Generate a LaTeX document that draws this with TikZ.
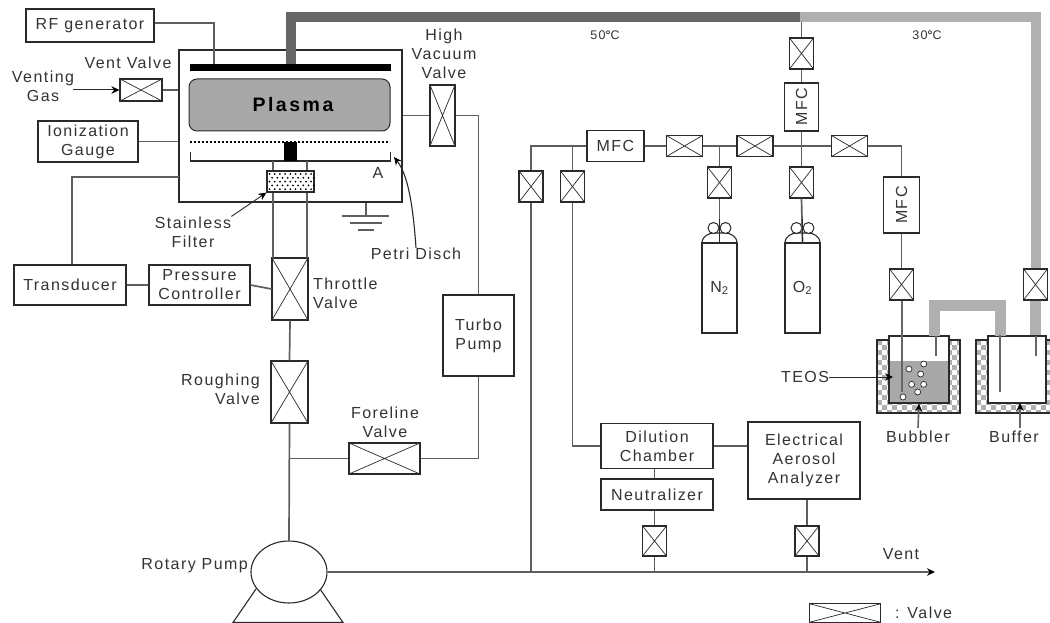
\documentclass[tikz,border=0pt]{standalone}
\usepackage{fontspec}
\setmainfont[LetterSpace=9]{Liberation Sans}
\usetikzlibrary{arrows.meta,shapes.geometric}
\definecolor{linegray}{HTML}{5E5E5E}
\definecolor{boxline}{HTML}{2A2A2A}
\definecolor{labeltext}{HTML}{333333}
\definecolor{hotline}{HTML}{666666}
\definecolor{coldline}{HTML}{B0B0B0}
\definecolor{plasmafill}{HTML}{A8A8A8}
\tikzset{
  lbl/.style={inner sep=0pt, align=center, text=labeltext,
    font=\fontsize{16}{19}\selectfont},
  tinylbl/.style={lbl, font=\fontsize{12.5}{15}\selectfont},
  flowbox/.style={draw=boxline, line width=1.1pt, lbl, text=labeltext},
  valve/.style={draw=boxline, line width=1.1pt, inner sep=0pt,
    path picture={\draw[boxline, line width=0.7pt]
      (path picture bounding box.north west) -- (path picture bounding box.south east)
      (path picture bounding box.north east) -- (path picture bounding box.south west);}},
  valveup/.style={valve, minimum width=24pt, minimum height=31pt},
  valveside/.style={valve, minimum width=36pt, minimum height=21pt},
  pipe/.style={draw=linegray, line width=1.7pt},
  hotpipe/.style={draw=hotline, line width=10pt},
  coldpipe/.style={draw=coldline, line width=10pt},
  arr/.style={-{Stealth[length=8pt,width=7.5pt,black]}, draw=boxline, line width=1pt},
  tube/.style={draw=hotline, line width=2pt}
}
\begin{document}
\begin{tikzpicture}[x=1pt,y=-1pt]
  \clip (0,0) rectangle (1050,623);
  \fill[white] (0,0) rectangle (1050,623);
  \node[flowbox, minimum width=128pt, minimum height=33pt] (rfgen) at (90,25.5) {RF generator};
  \node[flowbox, minimum width=100pt, minimum height=41pt] (iongauge) at (88,141.5) {Ionization\\Gauge};
  \node[flowbox, minimum width=112pt, minimum height=40pt] (transducer) at (70,285) {Transducer};
  \node[flowbox, minimum width=101pt, minimum height=40pt] (presctrl) at (199.5,285) {Pressure\\Controller};
  \node[draw=boxline, line width=1.1pt, minimum width=223pt, minimum height=152pt] (chamber) at (290.5,126) {};
  \node[fill=black, inner sep=0pt, minimum width=201pt, minimum height=7pt] (topplate) at (290.5,67.5) {};
  \node[draw=boxline, line width=1pt, fill=plasmafill, rounded corners=8pt, minimum width=201pt, minimum height=52pt,
    font=\fontsize{19.5}{22}\bfseries\addfontfeature{LetterSpace=13}, text=black] (plasma) at (289.5,105) {\hspace*{7pt}Plasma};
  \node[valveside, minimum width=42pt, minimum height=22pt] (ventv) at (141,90) {};
  \node[valveup, minimum width=25pt, minimum height=61pt] (hvv) at (442.5,115.5) {};
  \node[valveup, minimum width=36pt, minimum height=62pt] (throttle) at (290,289) {};
  \node[valveup, minimum width=37pt, minimum height=62pt] (roughv) at (289.5,392) {};
  \node[valveside, minimum width=71pt, minimum height=31pt] (forev) at (384.5,458.5) {};
  \node[flowbox, minimum width=71pt, minimum height=81pt] (turbo) at (478.5,335.5) {Turbo\\Pump};
  \node[draw=boxline, line width=1.1pt, ellipse, inner sep=0pt, minimum width=76pt, minimum height=62pt] (pump) at (289,572) {};
  \node[lbl] (vgaslbl) at (43,86.5) {Venting\\Gas};
  \node[lbl] (ventvlbl) at (128,63) {Vent Valve};
  \node[lbl] (hvvlbl) at (444,54) {High\\Vacuum\\Valve};
  \node[lbl] (alabel) at (378,173) {A};
  \node[lbl] (stainlesslbl) at (193,232) {Stainless\\Filter};
  \node[lbl] (petrilbl) at (416,254) {Petri Disch};
  \node[lbl, align=left, anchor=west] (throttlelbl) at (313,293.5) {Throttle\\Valve};
  \node[lbl, align=right, anchor=east] (roughlbl) at (260,389.5) {Roughing\\Valve};
  \node[lbl] (forelbl) at (385,422) {Foreline\\Valve};
  \node[lbl, anchor=east] (pumplbl) at (248,566) {Rotary Pump};
  \coordinate (rftap) at (214,64);
  \coordinate (tport) at (179,177);
  \coordinate (tee) at (800,17.5);
  \coordinate (gnd) at (366,216);
  \coordinate (ventend) at (935,572);
  \coordinate (vgasend) at (73,90);
  \coordinate (petritip) at (394,157);
  \draw[pipe] ([yshift=2.5pt]rfgen.east) -| (rftap);
  \draw[pipe] (iongauge.east) -- (iongauge.east -| chamber.west);
  \draw[pipe] ([xshift=2pt]transducer.north) |- (tport);
  \draw[pipe] (transducer.east) -- (presctrl.west);
  \draw[pipe] (presctrl.east) -- (throttle.west);
  \draw[pipe] (ventv.east) -- (ventv.east -| chamber.west);
  \draw[arr] (vgasend) -- (ventv.west);
  \draw[pipe] (hvv.west) -- (hvv.west -| chamber.east);
  \draw[pipe] (hvv.east) -| (turbo.north);
  \draw[pipe] (forev.east) -| (turbo.south);
  \draw[pipe] (forev.west) -- (forev.west -| roughv.south);
  \draw[pipe] (throttle.south) -- (roughv.north);
  \draw[pipe] (roughv.south) -- (pump.north);
  \draw[draw=boxline, line width=1.1pt] (256,589) -- (233,622.5) -- (343,622.5) -- (320,589);
  \draw[dash pattern=on 2.2pt off 1.8pt, line width=2pt, black] (190,142) -- (390,142);
  \draw[boxline, line width=1.8pt] (190.5,152) -- (190.5,161) -- (390.5,161) -- (390.5,152);
  \node[fill=black, inner sep=0pt, minimum width=13pt, minimum height=19pt] (stem) at (290.5,151.5) {};
  \draw[pipe] (273,161) -- (273,258);
  \draw[pipe] (307,161) -- (307,258);
  \node[draw=boxline, fill=white, line width=1.2pt, inner sep=0pt, minimum width=47pt, minimum height=21pt] (filter) at (290.5,181.5) {};
  \foreach \i in {0,...,8}{
    \foreach \j in {0,...,4}{
      \fill[black] ({269.5+\i*5.2+mod(\j,2)*2.6},{174+\j*3.8}) circle (1pt);
    }
  }
  \draw[arr, line width=0.9pt] (stainlesslbl.north east) -- (filter.south west);
  \draw[arr, line width=1.1pt] (petrilbl.north) .. controls (413,205) and (408,175) .. (petritip);
  \draw[pipe] (chamber.south -| gnd) -- (gnd);
  \draw[pipe] ([xshift=-24pt]gnd) -- ([xshift=23pt]gnd);
  \draw[pipe] ([shift={(-16pt,-7pt)}]gnd) -- ([shift={(16pt,-7pt)}]gnd);
  \draw[pipe] ([shift={(-8pt,-14pt)}]gnd) -- ([shift={(8pt,-14pt)}]gnd);
  \node[valveup] (topv) at (801.5,53.5) {};
  \node[flowbox, minimum width=34.5pt, minimum height=48pt] (mfctop) at (801.5,107) {\rotatebox{90}{MFC}};
  \node[flowbox, minimum width=57pt, minimum height=31pt] (mfcleft) at (615.5,146) {MFC};
  \node[valveside] (gasva) at (684.5,146) {};
  \node[valveside] (gasvb) at (755,146) {};
  \node[valveside] (gasvc) at (849.5,146) {};
  \node[valveup] (purgev) at (531,186.5) {};
  \node[valveup] (dilv) at (572.5,186.5) {};
  \node[valveup] (n2v) at (719.5,182.5) {};
  \node[valveup] (o2v) at (801.5,182.5) {};
  \node[flowbox, minimum width=36pt, minimum height=56pt] (mfcright) at (901.5,205) {\rotatebox{90}{MFC}};
  \node[valveup] (bubv) at (901.5,284.5) {};
  \node[valveup] (buffv) at (1035.5,284.5) {};
  \node[tinylbl] (hotlbl) at (605,35) {50{\bfseries °}C};
  \node[tinylbl] (coldlbl) at (927,35) {30{\bfseries °}C};
  \draw[pipe] (topv.north) -- (topv.north |- tee);
  \draw[hotpipe] (topplate.north) |- (tee);
  \draw[coldpipe] ([xshift=-0.1pt]tee) -| (buffv.north);
  \draw[pipe] (topv.south) -- (mfctop.north);
  \draw[pipe] (mfctop.south) -- (o2v.north);
  \draw[pipe] (mfcleft.east) -- (gasva.west);
  \draw[pipe] (gasva.east) -- (gasvb.west);
  \draw[pipe] (gasvb.east) -- (gasvc.west);
  \draw[pipe] (gasvc.east) -| (mfcright.north);
  \draw[pipe] (mfcright.south) -- (bubv.north);
  \draw[pipe] (n2v.north) -- (n2v.north |- gasva.east);
  \draw[pipe] (mfcleft.west) -| (purgev.north);
  \draw[pipe] (dilv.north) -- (dilv.north |- mfcleft.west);
  \foreach \cx/\cname/\ctext/\cvalve in {719.5/n2cyl/N\textsubscript{2}/n2v, 802.5/o2cyl/O\textsubscript{2}/o2v}{
    \node[draw=boxline, line width=1.1pt, minimum width=35pt, minimum height=90pt, lbl, text=labeltext] (\cname) at (\cx,288) {\raisebox{-6pt}{\ctext}};
    \draw[boxline, line width=1.1pt] (\cx-17.5,243) .. controls (\cx-17.5,236) and (\cx-10,233) .. (\cx-6,233) -- (\cx+6,233) .. controls (\cx+10,233) and (\cx+17.5,236) .. (\cx+17.5,243);
    \draw[boxline, line width=1pt, fill=white] (\cx-6,228) circle (5.5pt) (\cx+6,228) circle (5.5pt);
    \draw[pipe] (\cvalve.south) -- (\cname.north);
    \draw[boxline, line width=1.8pt] (\cx,219) -- (\cname.north);
  }
  \foreach \bx/\bw/\bname in {877/83/bubbath, 976/81/bufbath}{
    \node[draw=boxline, line width=1.1pt, anchor=north west, inner sep=0pt, minimum width=\bw pt, minimum height=73pt] (\bname) at (\bx,340) {};
    \begin{scope}
      \clip (\bx,340) rectangle ++(\bw,73);
      \foreach \i in {0,...,20}{
        \pgfmathsetmacro{\off}{mod(\i,2)*5}
        \foreach \j in {0,10,...,70}{
          \fill[coldline] ({\bx+\i*5},{340+\j+\off}) rectangle ++(5,5);
        }
      }
    \end{scope}
    \draw[boxline, line width=1.1pt] (\bx,340) rectangle ++(\bw,73);
  }
  \node[draw=boxline, fill=white, line width=1.2pt, inner sep=0pt, minimum width=60pt, minimum height=67pt] (bubvessel) at (919,369.5) {};
  \node[draw=boxline, fill=white, line width=1.2pt, inner sep=0pt, minimum width=58pt, minimum height=67pt] (bufvessel) at (1017,369.5) {};
  \fill[plasmafill] (889.7,361) rectangle (948.3,402.3);
  \foreach \bubx/\buby in {147/327,191/312,182/342,155/373,191/373,173/396,129/411}{
    \draw[boxline, line width=0.7pt, fill=white] ({860+\bubx/3},{260+\buby/3}) circle (3pt);
  }
  \draw[coldline, line width=11pt] (934,336) -- (934,305) -- (1000.5,305) -- (1000.5,336);
  \draw[coldpipe, line width=11pt] (buffv.south) -- (buffv.south |- bufvessel.north);
  \coordinate (bubdip) at (901.5,392);
  \coordinate (bufdip) at (1000,392);
  \draw[tube] (bubv.south) -- (bubdip);
  \draw[tube] (bufdip |- bufvessel.north) -- (bufdip);
  \draw[tube] (935.5,336) -- (935.5,356);
  \draw[tube] (1036,336) -- (1036,356);
  \node[lbl] (teoslbl) at (805,377) {TEOS};
  \coordinate (teostip) at (893,377);
  \draw[arr] (teoslbl.east) -- (teostip);
  \node[lbl] (bubblerlbl) at (918,437) {Bubbler};
  \node[lbl] (bufferlbl) at (1014,437) {Buffer};
  \coordinate (buffertip) at (1020,403);
  \draw[arr, draw=hotline, line width=1.6pt] (bubblerlbl.north) ++(0,-3) -- (bubvessel.south);
  \draw[arr, draw=hotline, line width=1.6pt] (buffertip |- bufferlbl.north) ++(0,-3) -- (buffertip);
  \node[flowbox, minimum width=112pt, minimum height=45pt] (dilution) at (657,446) {Dilution\\Chamber};
  \node[flowbox, minimum width=112pt, minimum height=31pt] (neutral) at (657,494.5) {Neutralizer};
  \node[flowbox, minimum width=112pt, minimum height=77pt] (aerosol) at (804,460.5) {Electrical\\Aerosol\\Analyzer};
  \node[valveup, minimum height=30pt] (neutv) at (654.5,541) {};
  \node[valveup, minimum height=30pt] (aerov) at (807,541) {};
  \node[lbl] (ventlbl) at (901,554) {Vent};
  \node[valve, minimum width=71pt, minimum height=18.5pt] (legendv) at (845,613) {};
  \node[lbl, anchor=west] (legendlbl) at (895,613) {: Valve};
  \draw[pipe] (dilv.south) |- (dilution.west);
  \draw[pipe] (dilution.east) -- (dilution.east -| aerosol.west);
  \draw[pipe] (dilution.south -| neutv) -- (neutral.north -| neutv);
  \draw[pipe] (neutral.south -| neutv) -- (neutv.north);
  \draw[pipe] (aerosol.south -| aerov) -- (aerov.north);
  \draw[pipe] (neutv.south) -- (neutv.south |- ventend);
  \draw[pipe] (aerov.south) -- (aerov.south |- ventend);
  \draw[pipe] (purgev.south) -- (purgev.south |- ventend);
  \draw[arr, draw=linegray, line width=1.7pt] (pump.east |- ventend) -- (ventend);
\end{tikzpicture}
\end{document}
